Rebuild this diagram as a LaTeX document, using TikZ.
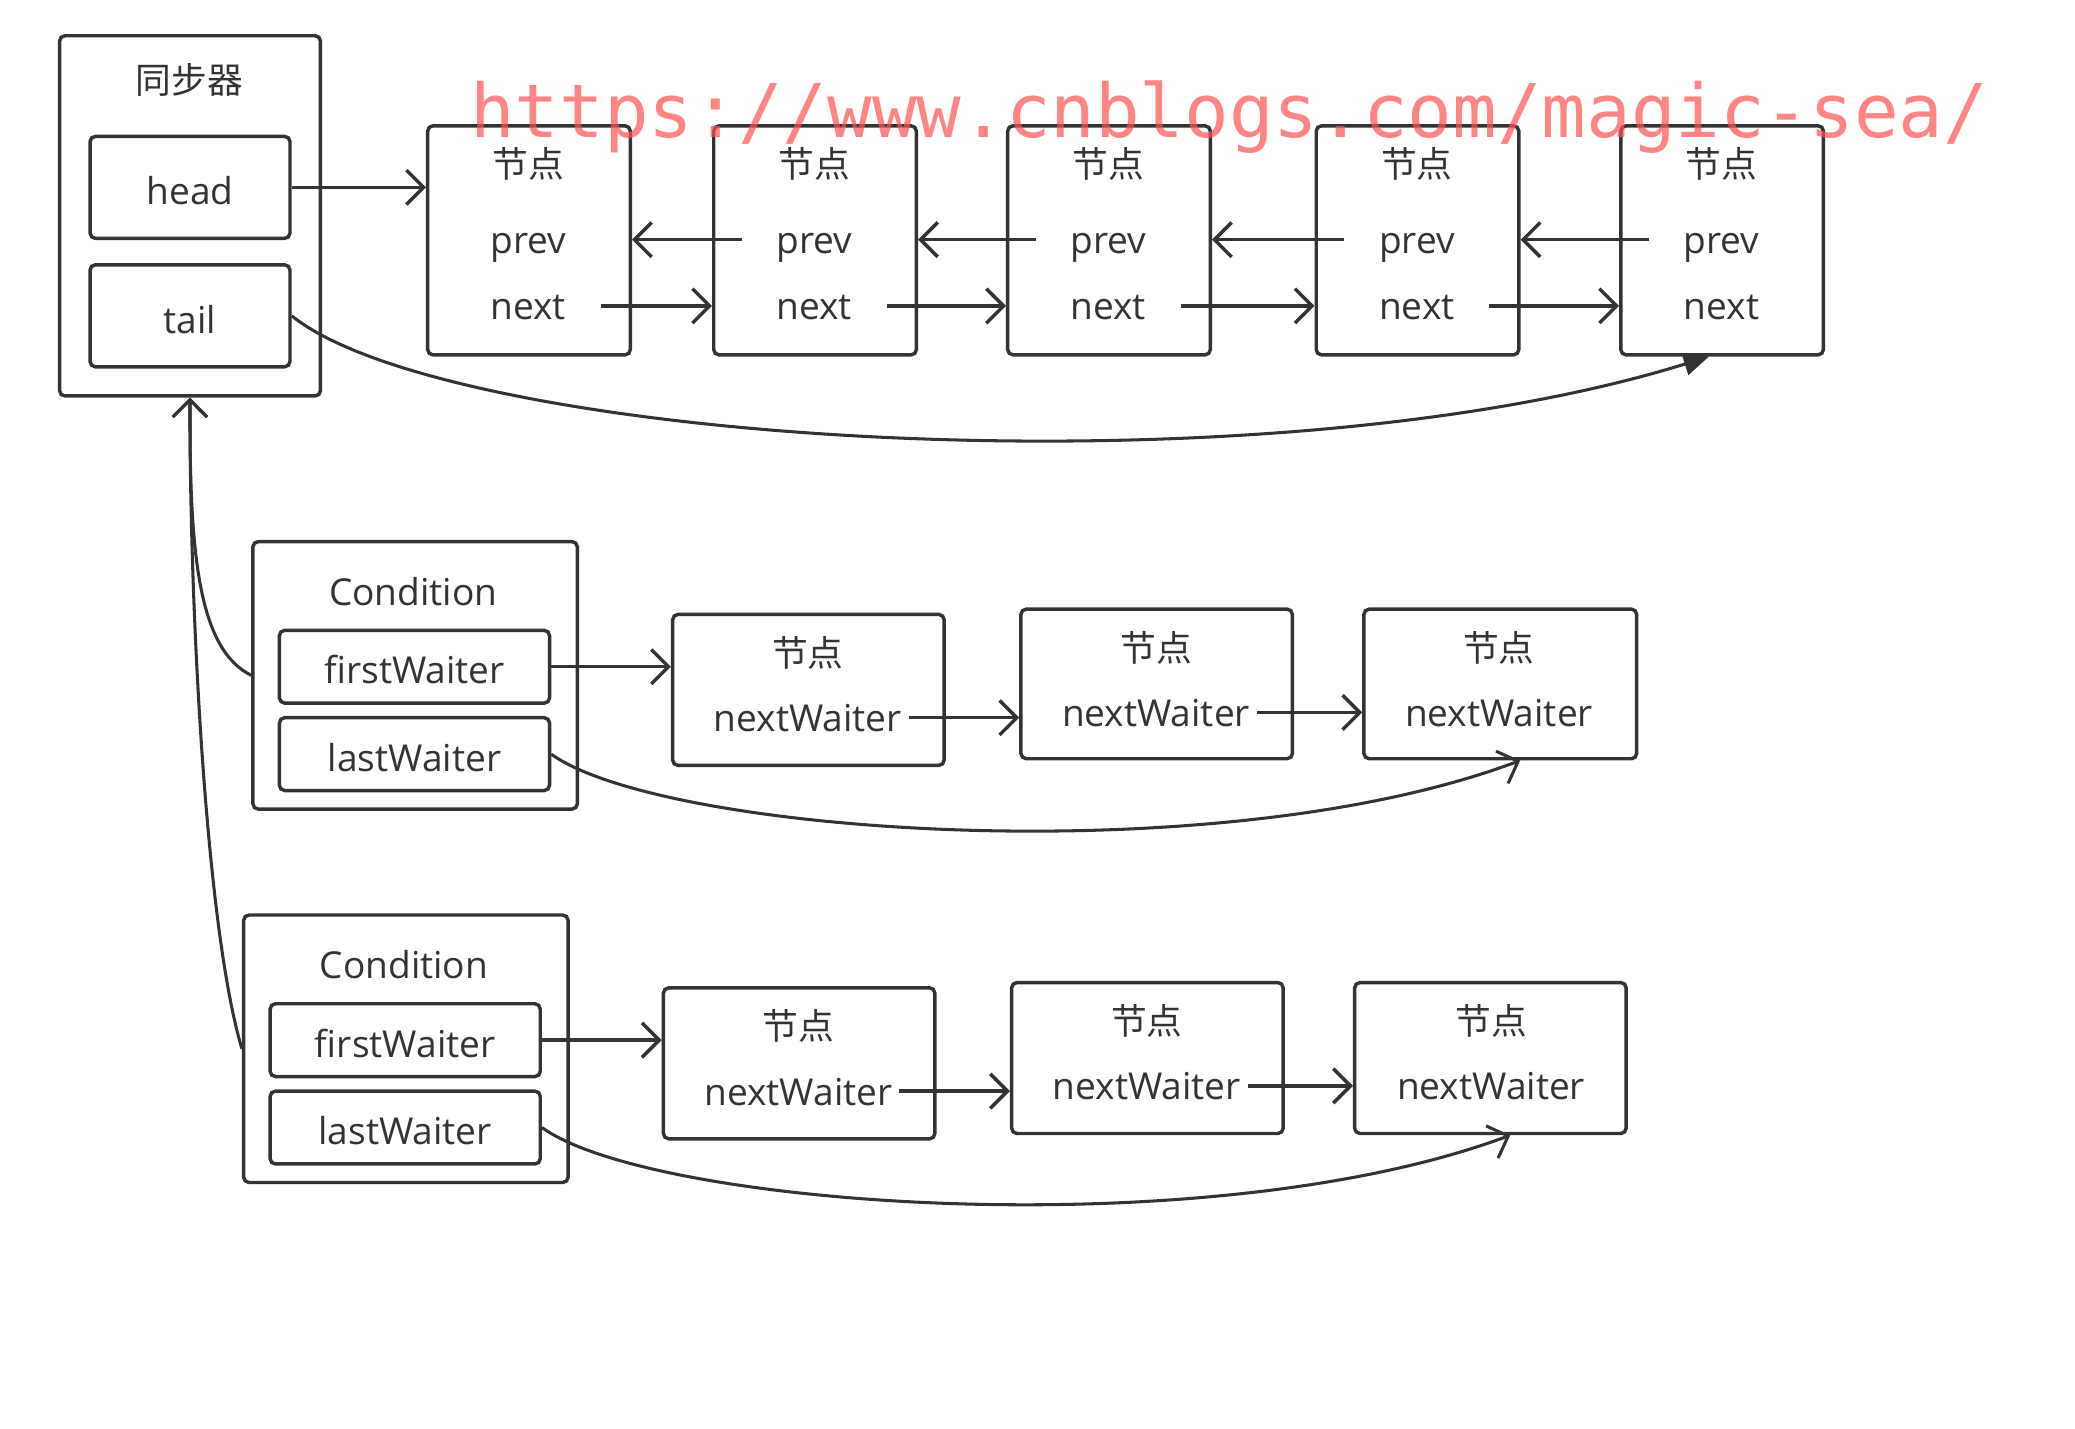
\documentclass[tikz,border=0pt]{standalone}
\usepackage{fontspec}
\usepackage{tikz}
\usetikzlibrary{arrows.meta}
\setmainfont{Open Sans}
\newfontfamily\cjk{Noto Sans CJK SC}
\newfontfamily\wmfont{DejaVu Sans Mono}
\definecolor{ink}{RGB}{51, 51, 51}
\definecolor{mark}{RGB}{255, 80, 80}
\tikzset{
  box/.style={draw=ink, line width=2.6pt, rounded corners=4pt, inner sep=0pt, text=ink,
    text height=26pt, text depth=0pt, font=\fontsize{28}{30}\selectfont},
  ttl/.style={inner sep=0pt, text=ink, font=\fontsize{27}{30}\selectfont\cjk},
  fld/.style={inner xsep=26pt, inner ysep=0pt, text height=21pt, text depth=0pt, text=ink,
    font=\fontsize{28}{30}\selectfont},
  wfld/.style={fld, inner xsep=5pt},
  arr/.style={draw=ink, line width=2.6pt, -{Straight Barb[length=13pt,width=26pt,line width=2.6pt]}},
  curvearr/.style={draw=ink, line width=2.3pt, -{Straight Barb[length=13pt,width=26pt,line width=2.3pt]}},
  tri/.style={draw=ink, line width=2.3pt, -{Triangle[length=19pt,width=17pt]}}
}
\begin{document}
\begin{tikzpicture}[x=1pt, y=-1pt]
  \useasboundingbox (0,0) rectangle (1567,1078.5);
  % synchronizer
  \node[box, minimum width=197, minimum height=272] (sync) at (143.5,163) {};
  \node[ttl] (synct) at (143,60) {同步器};
  \node[box, minimum width=151, minimum height=77] (head) at (143.5,141.5) {head};
  \node[box, minimum width=151, minimum height=77] (tail) at (143.5,238.5) {tail};
  % sync queue
  \node[box, minimum width=153, minimum height=173] (n1) at (399.5,181.5) {};
  \node[box, minimum width=153, minimum height=173] (n2) at (615.5,181.5) {};
  \node[box, minimum width=153, minimum height=173] (n3) at (837.5,181.5) {};
  \node[box, minimum width=153, minimum height=173] (n4) at (1070.5,181.5) {};
  \node[box, minimum width=153, minimum height=173] (n5) at (1300.5,181.5) {};
  \node[ttl] (t1) at (399,124) {节点};
  \node[ttl] (t2) at (615,124) {节点};
  \node[ttl] (t3) at (837,124) {节点};
  \node[ttl] (t4) at (1070,124) {节点};
  \node[ttl] (t5) at (1300,124) {节点};
  \node[fld] (p1) at (399,181) {prev};
  \node[fld] (p2) at (615,181) {prev};
  \node[fld] (p3) at (837,181) {prev};
  \node[fld] (p4) at (1070,181) {prev};
  \node[fld] (p5) at (1300,181) {prev};
  \node[fld] (x1) at (399,231) {next};
  \node[fld] (x2) at (615,231) {next};
  \node[fld] (x3) at (837,231) {next};
  \node[fld] (x4) at (1070,231) {next};
  \node[fld] (x5) at (1300,231) {next};
  \draw[arr] (head.east) -- (head.east -| n1.west);
  \draw[arr] (p2.west) -- (p2.west -| n1.east);
  \draw[arr] (p3.west) -- (p3.west -| n2.east);
  \draw[arr] (p4.west) -- (p4.west -| n3.east);
  \draw[arr] (p5.west) -- (p5.west -| n4.east);
  \draw[arr] (x1.east) -- (x1.east -| n2.west);
  \draw[arr] (x2.east) -- (x2.east -| n3.west);
  \draw[arr] (x3.east) -- (x3.east -| n4.west);
  \draw[arr] (x4.east) -- (x4.east -| n5.west);
  \draw[tri] (tail.east) .. controls (340,335) and (950,375) .. ([xshift=-10]n5.south);
  % first condition queue
  \node[box, minimum width=245, minimum height=202] (c1) at (313.5,510) {};
  \node[fld, inner xsep=0pt, text height=20pt, text depth=6pt] (c1n) at (312,450) {Condition};
  \node[box, minimum width=204, minimum height=55] (fw1) at (313,503.5) {firstWaiter};
  \node[box, minimum width=204, minimum height=55] (lw1) at (313,569.5) {lastWaiter};
  \node[box, minimum width=205, minimum height=114] (w1) at (610.5,521) {};
  \node[box, minimum width=205, minimum height=113] (w2) at (873.5,516.5) {};
  \node[box, minimum width=206, minimum height=113] (w3) at (1133,516.5) {};
  \node[ttl] (wt1) at (610,493) {节点};
  \node[ttl] (wt2) at (873,489) {节点};
  \node[ttl] (wt3) at (1132,489) {节点};
  \node[wfld] (nw1) at (610,542) {nextWaiter};
  \node[wfld] (nw2) at (873,538) {nextWaiter};
  \node[wfld] (nw3) at (1132,538) {nextWaiter};
  \draw[arr] (fw1.east) -- (fw1.east -| w1.west);
  \draw[arr] (nw1.east) -- (nw1.east -| w2.west);
  \draw[arr] (nw2.east) -- (nw2.east -| w3.west);
  \draw[curvearr] (lw1.east) .. controls (500,630) and (920,660) .. ([xshift=15]w3.south);
  % second condition queue
  \node[box, minimum width=245, minimum height=202] (c2) at (306.5,792) {};
  \node[fld, inner xsep=0pt, text height=20pt, text depth=6pt] (c2n) at (305,732) {Condition};
  \node[box, minimum width=204, minimum height=55] (fw2) at (306,785.5) {firstWaiter};
  \node[box, minimum width=204, minimum height=55] (lw2) at (306,851.5) {lastWaiter};
  \node[box, minimum width=205, minimum height=114] (v1) at (603.5,803) {};
  \node[box, minimum width=205, minimum height=114] (v2) at (866.5,799) {};
  \node[box, minimum width=205, minimum height=114] (v3) at (1125.5,799) {};
  \node[ttl] (vt1) at (603,775) {节点};
  \node[ttl] (vt2) at (866,771) {节点};
  \node[ttl] (vt3) at (1126,771) {节点};
  \node[wfld] (nv1) at (603,824) {nextWaiter};
  \node[wfld] (nv2) at (866,820) {nextWaiter};
  \node[wfld] (nv3) at (1126,820) {nextWaiter};
  \draw[arr] (fw2.east) -- (fw2.east -| v1.west);
  \draw[arr] (nv1.east) -- (nv1.east -| v2.west);
  \draw[arr] (nv2.east) -- (nv2.east -| v3.west);
  \draw[curvearr] (lw2.east) .. controls (493,912) and (913,942) .. ([xshift=15]v3.south);
  % back to the synchronizer
  \draw[curvearr] (c1.west) .. controls (150,490) and (143,420) .. (sync.south);
  \draw[curvearr] (c2.west) .. controls (155,700) and (143,450) .. (sync.south);
  % watermark
  \node[anchor=base west, inner sep=0pt, text=mark, text opacity=0.7,
    font=\fontsize{56}{60}\selectfont\wmfont] (url) at (355,104) {https://www.cnblogs.com/magic-sea/};
\end{tikzpicture}
\end{document}
